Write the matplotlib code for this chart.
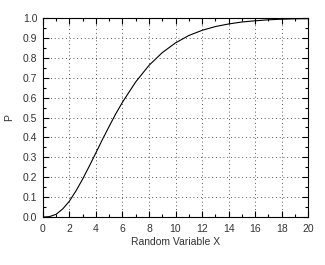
import matplotlib
matplotlib.use("Agg")
import matplotlib.pyplot as plt
from matplotlib.ticker import MultipleLocator

x_vals = [0.0, 0.5, 1.0, 1.5, 2.0, 2.5, 3.0, 3.5, 4.0, 4.5, 5.0, 5.5, 6.0, 7.0, 8.0,
          9.0, 10.0, 11.0, 12.0, 13.0, 14.0, 15.0, 16.0, 17.0, 18.0, 19.0, 20.0]
p_vals = [0.0, 0.002, 0.014, 0.041, 0.080, 0.132, 0.191, 0.256, 0.323, 0.391, 0.456,
          0.519, 0.577, 0.679, 0.762, 0.826, 0.875, 0.912, 0.938, 0.957, 0.970, 0.980,
          0.986, 0.991, 0.994, 0.996, 0.997]
x_label = "Random Variable X"
y_label = "P"

plt.rcParams['font.family'] = ['Liberation Sans', 'DejaVu Sans']
fig = plt.figure(figsize=(3.25, 2.65), dpi=100)
ax = fig.add_axes([0.132, 0.181, 0.816, 0.751])
ax.plot(x_vals, p_vals, color='black', lw=0.8)
ax.set_xlim(0, 20)
ax.set_ylim(0, 1)
ax.xaxis.set_major_locator(MultipleLocator(2))
ax.xaxis.set_minor_locator(MultipleLocator(1))
ax.yaxis.set_major_locator(MultipleLocator(0.1))
ax.yaxis.set_minor_locator(MultipleLocator(0.05))
ax.yaxis.set_major_formatter(matplotlib.ticker.FormatStrFormatter('%.1f'))
ax.tick_params(which='both', direction='in', top=True, right=True, labelsize=7.5,
               width=0.8, colors='black', labelcolor='#333333')
ax.tick_params(axis='x', which='major', length=4, pad=5)
ax.tick_params(axis='y', which='major', length=4, pad=4)
ax.tick_params(which='minor', length=2)
ax.grid(True, which='major', color='#222222', linestyle=(0, (1, 3.5)), linewidth=0.6)
for s in ax.spines.values():
    s.set_linewidth(0.8)
ax.set_xlabel(x_label, fontsize=7.5, labelpad=2, color='#333333')
ax.set_ylabel(y_label, fontsize=7.5, labelpad=6, color='#333333')
fig.savefig("out.png", dpi=100)
